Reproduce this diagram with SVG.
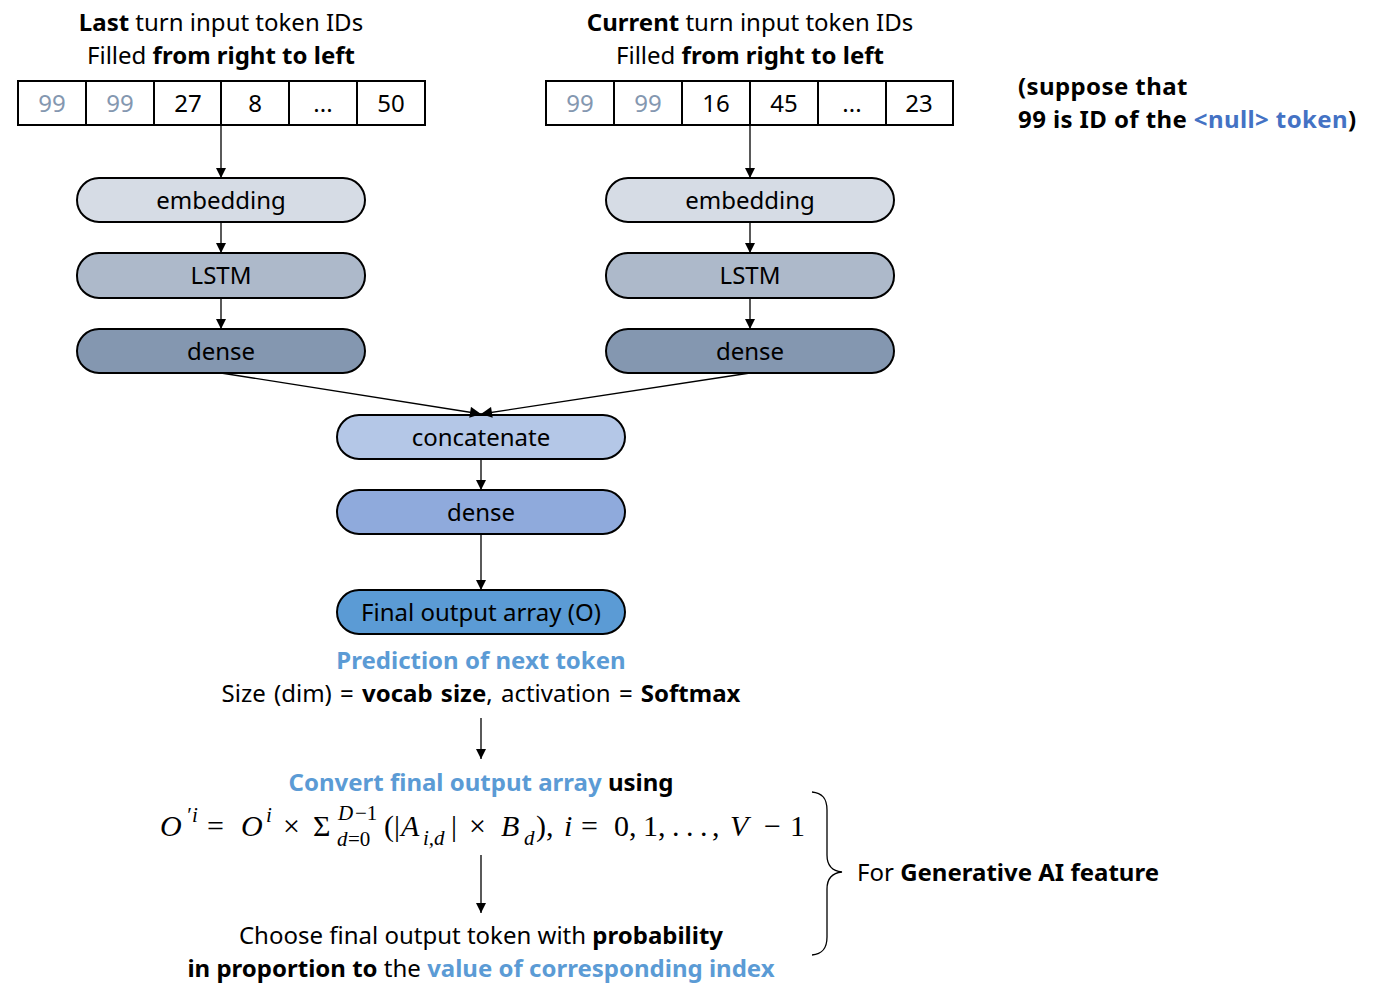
<svg xmlns="http://www.w3.org/2000/svg" width="1380" height="999" viewBox="0 0 1380 999">
<style>
text{font-family:"Noto Sans","Open Sans",sans-serif;font-size:24px;fill:#000}
.c{text-anchor:middle}
.b{font-weight:bold}
.g{fill:#8497b0}
.blue{fill:#5b9bd5}
.dblue{fill:#4472c4}
.cell{fill:#fff;stroke:#000;stroke-width:2}
.node rect{stroke:#000;stroke-width:2}
.m{font-family:"Liberation Serif","DejaVu Serif",serif;font-size:30px}
.mi{font-family:"Liberation Serif","DejaVu Serif",serif;font-size:30px;font-style:italic}
.ms{font-family:"Liberation Serif","DejaVu Serif",serif;font-size:21px;font-style:italic}
.msr{font-family:"Liberation Serif","DejaVu Serif",serif;font-size:21px}
.conn{stroke:#000;stroke-width:1.3;fill:none;marker-end:url(#ah)}
</style>
<defs>
<marker id="ah" viewBox="0 0 10 10" refX="10" refY="5" markerWidth="10" markerHeight="10" markerUnits="userSpaceOnUse" orient="auto"><path d="M0,0L10,5L0,10z" fill="#000"/></marker>
<marker id="ah2" viewBox="0 0 10 10" refX="10" refY="5" markerWidth="13" markerHeight="11" markerUnits="userSpaceOnUse" orient="auto"><path d="M0,0L10,5L0,10z" fill="#000"/></marker>
</defs>
<rect width="1380" height="999" fill="#fff"/>

<g id="left-header">
<text class="c"><tspan x="221" y="31"><tspan class="b">Last</tspan> turn input token IDs</tspan><tspan x="221" y="64">Filled <tspan class="b">from right to left</tspan></tspan></text>
</g>
<g id="left-array">
<rect class="cell" x="18" y="81" width="407" height="44"/>
<path d="M86,81V125M154,81V125M221,81V125M289,81V125M357,81V125" stroke="#000" stroke-width="2"/>
<text class="c g" x="52" y="112">99</text>
<text class="c g" x="120" y="112">99</text>
<text class="c" x="188" y="112">27</text>
<text class="c" x="255" y="112">8</text>
<text class="c" x="323" y="112">...</text>
<text class="c" x="391" y="112">50</text>
</g>

<g id="right-header">
<text class="c"><tspan x="750" y="31"><tspan class="b">Current</tspan> turn input token IDs</tspan><tspan x="750" y="64">Filled <tspan class="b">from right to left</tspan></tspan></text>
</g>
<g id="right-array">
<rect class="cell" x="546" y="81" width="407" height="44"/>
<path d="M614,81V125M682,81V125M750,81V125M818,81V125M886,81V125" stroke="#000" stroke-width="2"/>
<text class="c g" x="580" y="112">99</text>
<text class="c g" x="648" y="112">99</text>
<text class="c" x="716" y="112">16</text>
<text class="c" x="784" y="112">45</text>
<text class="c" x="852" y="112">...</text>
<text class="c" x="919" y="112">23</text>
</g>

<g id="note">
<text class="b" letter-spacing="0.4"><tspan x="1018" y="95">(suppose that</tspan><tspan x="1018" y="128">99 is ID of the <tspan class="dblue">&lt;null&gt; token</tspan>)</tspan></text>
</g>

<g id="l-embedding" class="node"><rect x="77" y="178" width="288" height="44" rx="22" fill="#d6dce5"/><text class="c" x="221" y="209">embedding</text></g>
<g id="l-lstm" class="node"><rect x="77" y="253" width="288" height="45" rx="22" fill="#adb9ca"/><text class="c" x="221" y="284">LSTM</text></g>
<g id="l-dense" class="node"><rect x="77" y="329" width="288" height="44" rx="22" fill="#8497b0"/><text class="c" x="221" y="360">dense</text></g>

<g id="r-embedding" class="node"><rect x="606" y="178" width="288" height="44" rx="22" fill="#d6dce5"/><text class="c" x="750" y="209">embedding</text></g>
<g id="r-lstm" class="node"><rect x="606" y="253" width="288" height="45" rx="22" fill="#adb9ca"/><text class="c" x="750" y="284">LSTM</text></g>
<g id="r-dense" class="node"><rect x="606" y="329" width="288" height="44" rx="22" fill="#8497b0"/><text class="c" x="750" y="360">dense</text></g>

<g id="concatenate" class="node"><rect x="337" y="415" width="288" height="44" rx="22" fill="#b4c7e7"/><text class="c" x="481" y="446">concatenate</text></g>
<g id="c-dense" class="node"><rect x="337" y="490" width="288" height="44" rx="22" fill="#8faadc"/><text class="c" x="481" y="521">dense</text></g>
<g id="final" class="node"><rect x="337" y="590" width="288" height="44" rx="22" fill="#5b9bd5"/><text class="c" x="481" y="621">Final output array (O)</text></g>

<g id="connectors">
<path class="conn" d="M221,125V178"/>
<path class="conn" d="M221,222V253"/>
<path class="conn" d="M221,298V329"/>
<path class="conn" d="M750,125V178"/>
<path class="conn" d="M750,222V253"/>
<path class="conn" d="M750,298V329"/>
<path d="M221,373L481,414" stroke="#000" stroke-width="1.3" fill="none" marker-end="url(#ah2)"/>
<path d="M750,373L481,414" stroke="#000" stroke-width="1.3" fill="none" marker-end="url(#ah2)"/>
<path class="conn" d="M481,459V490"/>
<path class="conn" d="M481,534V590"/>
<path class="conn" d="M481,718V759"/>
<path class="conn" d="M481,855V913"/>
</g>

<g id="prediction">
<text class="c"><tspan class="b blue" x="481" y="669">Prediction of next token</tspan><tspan x="481" y="702" word-spacing="2">Size (dim) = <tspan class="b">vocab size</tspan>, activation = <tspan class="b">Softmax</tspan></tspan></text>
</g>

<g id="convert">
<text class="c" x="481" y="791"><tspan class="b blue">Convert final output array</tspan> <tspan class="b">using</tspan></text>
</g>

<g id="formula">
<text class="mi" x="160" y="836">O</text>
<text class="ms" x="186" y="822">′</text>
<text class="ms" x="192" y="822">i</text>
<text class="m" x="207" y="836">=</text>
<text class="mi" x="241" y="836">O</text>
<text class="ms" x="266" y="822">i</text>
<text class="m" x="283" y="836">×</text>
<text class="m" x="313" y="836">Σ</text>
<text class="ms" x="338" y="820">D</text>
<text class="msr" x="355" y="820">−1</text>
<text class="ms" x="337" y="846">d</text>
<text class="msr" x="348" y="846">=0</text>
<text class="m" x="384" y="836">(|</text>
<text class="mi" x="401" y="836">A</text>
<text class="ms" x="423" y="845">i,d</text>
<text class="m" x="451" y="836">|</text>
<text class="m" x="469" y="836">×</text>
<text class="mi" x="501" y="836">B</text>
<text class="ms" x="524" y="845">d</text>
<text class="m" x="536" y="836">),</text>
<text class="mi" x="564" y="836">i</text>
<text class="m" x="581" y="836">=</text>
<text class="m" x="614" y="836">0,</text>
<text class="m" x="643" y="836">1,</text>
<text class="m" x="672" y="836">.</text>
<text class="m" x="686" y="836">.</text>
<text class="m" x="700" y="836">.</text>
<text class="m" x="712" y="836">,</text>
<text class="mi" x="730" y="836">V</text>
<text class="m" x="764" y="836">−</text>
<text class="m" x="790" y="836">1</text>
</g>

<g id="choose">
<text class="c"><tspan x="481" y="944">Choose final output token with <tspan class="b">probability</tspan></tspan><tspan x="481" y="977"><tspan class="b">in proportion to</tspan> the <tspan class="b blue">value of corresponding index</tspan></tspan></text>
</g>

<g id="brace">
<path d="M812,792C822,793 827,798 827,810V855C827,866 832,871 842,872C832,873 827,878 827,889V937C827,949 822,954 812,955" stroke="#000" stroke-width="1.3" fill="none"/>
<text x="857" y="881">For <tspan class="b">Generative AI feature</tspan></text>
</g>
</svg>
